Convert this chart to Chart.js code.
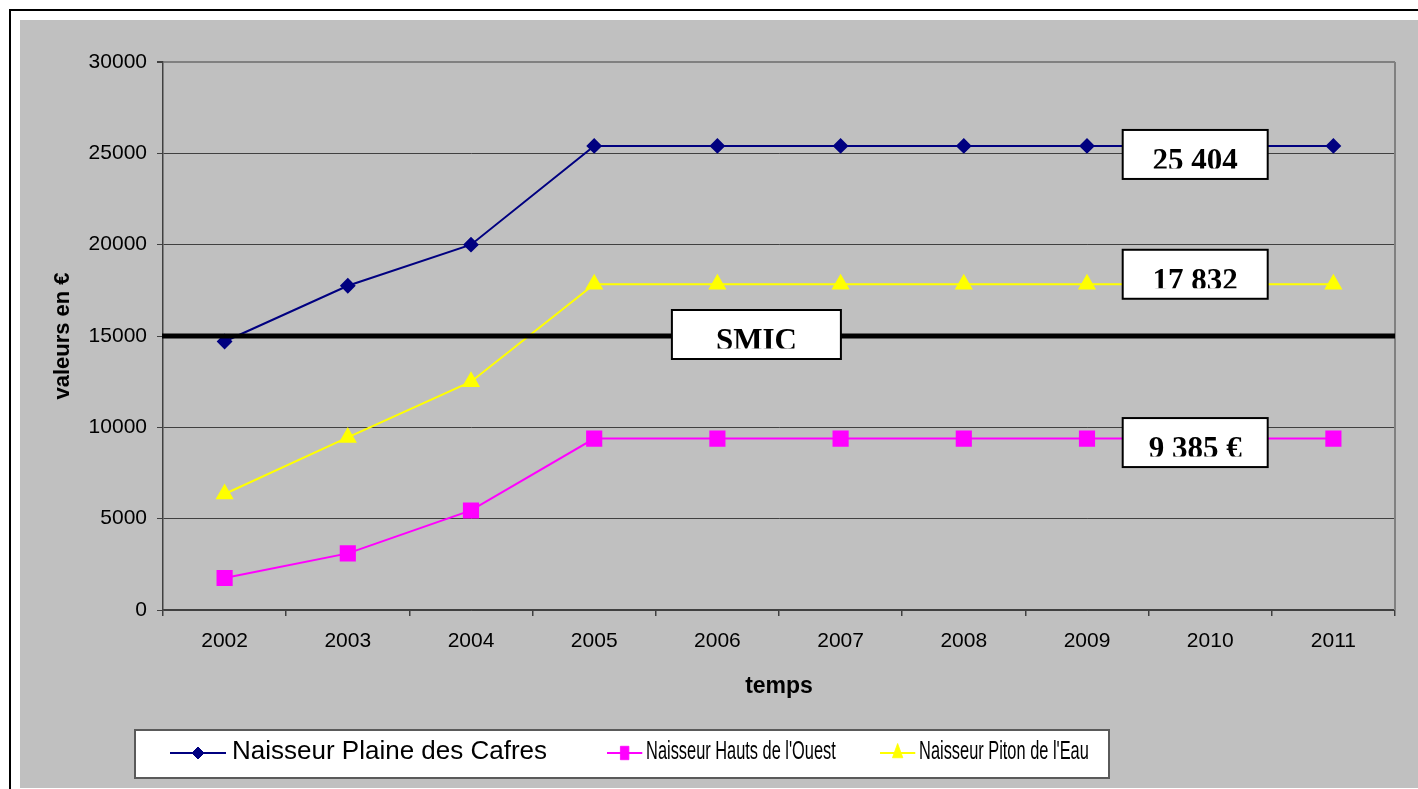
<!DOCTYPE html>
<html>
<head>
<meta charset="utf-8">
<script src="https://cdn.jsdelivr.net/npm/chart.js@4/dist/chart.umd.min.js"></script>
<style>
  html, body { margin: 0; padding: 0; background: #fff; }
  #wrap { width: 1418px; height: 789px; }
</style>
</head>
<body>
<div id="wrap"><canvas id="revenusChart" width="1418" height="789"></canvas></div>
<script>
const years = ["2002", "2003", "2004", "2005", "2006", "2007", "2008", "2009", "2010", "2011"];
const plaineDesCafres = [14700, 17750, 20000, 25404, 25404, 25404, 25404, 25404, 25404, 25404];
const hautsDeLOuest = [1750, 3100, 5450, 9385, 9385, 9385, 9385, 9385, 9385, 9385];
const pitonDeLEau = [6350, 9450, 12500, 17832, 17832, 17832, 17832, 17832, 17832, 17832];
const yTicks = [0, 5000, 10000, 15000, 20000, 25000, 30000];

const smicValue = 15000;
const smicText = "SMIC";
const boxTexts = ["25 404", "17 832", "9 385 €"];
const boxValues = [25404, 17832, 9385];

const SANS = "'Liberation Sans', Arial, sans-serif";
const SERIF = "'Liberation Serif', 'Times New Roman', serif";

// frame + grey background, like the spreadsheet export
const backgroundPlugin = {
  id: "background",
  beforeDraw(chart) {
    const ctx = chart.ctx;
    ctx.save();
    ctx.fillStyle = "#ffffff";
    ctx.fillRect(0, 0, chart.width, chart.height);
    ctx.strokeStyle = "#000000";
    ctx.lineWidth = 2;
    ctx.strokeRect(10, 10, chart.width + 20, chart.height + 20);
    ctx.fillStyle = "#C0C0C0";
    ctx.fillRect(20, 20, chart.width - 20, chart.height - 21);
    ctx.restore();
  },
  beforeDatasetsDraw(chart) {
    const { ctx, chartArea } = chart;
    ctx.save();
    ctx.strokeStyle = "#808080";
    ctx.lineWidth = 2;
    ctx.beginPath();
    ctx.moveTo(chartArea.right, chartArea.top);
    ctx.lineTo(chartArea.right, chartArea.bottom);
    ctx.stroke();
    ctx.restore();
  }
};

function drawTextBox(ctx, cx, cy, w, h, text) {
  const left = cx - w / 2, top = cy - h / 2;
  ctx.fillStyle = "#ffffff";
  ctx.fillRect(left, top, w, h);
  ctx.strokeStyle = "#000000";
  ctx.lineWidth = 2;
  ctx.strokeRect(left, top, w, h);
  ctx.save();
  ctx.beginPath();
  ctx.rect(left, top, w, 38.5);
  ctx.clip();
  ctx.fillStyle = "#000000";
  ctx.font = "bold 31px " + SERIF;
  ctx.textAlign = "center";
  ctx.textBaseline = "alphabetic";
  ctx.fillText(text, cx, top + 40);
  ctx.restore();
}

const annotationPlugin = {
  id: "annotations",
  afterDatasetsDraw(chart) {
    const { ctx, chartArea } = chart;
    const x = chart.scales.x, y = chart.scales.y;
    ctx.save();
    // SMIC line
    const ys = y.getPixelForValue(smicValue);
    ctx.strokeStyle = "#000000";
    ctx.lineWidth = 5;
    ctx.beginPath();
    ctx.moveTo(chartArea.left - 1, ys);
    ctx.lineTo(chartArea.right, ys);
    ctx.stroke();
    drawTextBox(ctx, x.getPixelForValue(4) + 39, ys - 1.5, 169, 49, smicText);

    const shifts = [8.5, -10, 4];
    boxValues.forEach((v, i) => {
      drawTextBox(ctx, x.getPixelForValue(8) - 15, y.getPixelForValue(v) + shifts[i], 145, 49, boxTexts[i]);
    });
    ctx.restore();
  }
};

// legend drawn by hand: excel squeezes the 2nd and 3rd entries
const legendPlugin = {
  id: "boxLegend",
  afterDraw(chart) {
    const ctx = chart.ctx;
    ctx.save();
    ctx.fillStyle = "#ffffff";
    ctx.fillRect(135, 730, 974, 48);
    ctx.strokeStyle = "#5a5a5a";
    ctx.lineWidth = 2;
    ctx.strokeRect(135, 730, 974, 48);

    const items = [
      { x: 170, sx: 1, r: 6 },
      { x: 607, sx: 0.63, r: 9.5 },
      { x: 880, sx: 0.63, r: 9.5 }
    ];
    chart.data.datasets.forEach((ds, i) => {
      const it = items[i];
      ctx.save();
      ctx.translate(it.x, 0);
      ctx.scale(it.sx, 1);
      ctx.strokeStyle = ds.borderColor;
      ctx.fillStyle = ds.pointBackgroundColor;
      ctx.lineWidth = 2;
      ctx.beginPath();
      ctx.moveTo(0, 753);
      ctx.lineTo(56, 753);
      ctx.stroke();
      ctx.lineWidth = 1;
      Chart.helpers.drawPoint(ctx, { pointStyle: ds.pointStyle, radius: it.r, rotation: 0, borderWidth: 1 }, 28, 753);
      ctx.fillStyle = "#000000";
      ctx.font = "26px " + SANS;
      ctx.textBaseline = "alphabetic";
      ctx.textAlign = "left";
      ctx.fillText(ds.label, 62, 759);
      ctx.restore();
    });
    ctx.restore();
  }
};

new Chart(document.getElementById("revenusChart"), {
  type: "line",
  data: {
    labels: years,
    datasets: [{
      label: "Naisseur Plaine des Cafres",
      data: plaineDesCafres,
      borderColor: "#000080",
      backgroundColor: "#000080",
      pointBackgroundColor: "#000080",
      pointBorderColor: "#000080",
      pointStyle: "rectRot",
      pointRadius: 6.5,
      borderWidth: 2
    }, {
      label: "Naisseur Hauts de l'Ouest",
      data: hautsDeLOuest,
      borderColor: "#FF00FF",
      backgroundColor: "#FF00FF",
      pointBackgroundColor: "#FF00FF",
      pointBorderColor: "#FF00FF",
      pointStyle: "rect",
      pointRadius: 10,
      borderWidth: 2
    }, {
      label: "Naisseur Piton de l'Eau",
      data: pitonDeLEau,
      borderColor: "#FFFF00",
      backgroundColor: "#FFFF00",
      pointBackgroundColor: "#FFFF00",
      pointBorderColor: "#FFFF00",
      pointStyle: "triangle",
      pointRadius: 8.5,
      borderWidth: 2
    }]
  },
  options: {
    responsive: false,
    animation: false,
    devicePixelRatio: 1,
    layout: { padding: { left: 20, top: 62, right: 23, bottom: 89 } },
    plugins: {
      legend: { display: false },
      tooltip: { enabled: false }
    },
    elements: {
      line: { tension: 0 },
      point: { borderWidth: 1, hoverRadius: 0 }
    },
    scales: {
      x: {
        type: "category",
        offset: true,
        grid: {
          offset: true,
          drawOnChartArea: false,
          drawTicks: true,
          tickLength: 6,
          color: "#404040",
          lineWidth: 1.5
        },
        border: { display: true, color: "#404040", width: 1.5 },
        ticks: { color: "#000", font: { family: SANS, size: 21 }, padding: 13, maxRotation: 0, autoSkip: false },
        title: {
          display: true,
          text: "temps",
          color: "#000",
          font: { family: SANS, size: 23, weight: "bold" },
          padding: { top: 0, bottom: 0 }
        },
        afterFit(scale) { scale.height = 90; }
      },
      y: {
        min: 0,
        max: 30000,
        afterBuildTicks(scale) { scale.ticks = yTicks.map(v => ({ value: v })); },
        grid: {
          color: c => (c.tick && c.tick.value === 30000 ? "#808080" : "#404040"),
          lineWidth: c => (c.tick && c.tick.value === 30000 ? 2 : 1),
          tickLength: 6,
          tickColor: "#404040",
          drawTicks: true
        },
        border: { display: true, color: "#404040", width: 1.5 },
        ticks: {
          color: "#000",
          font: { family: SANS, size: 21 },
          padding: 10,
          callback: v => String(v)
        },
        title: {
          display: true,
          text: "valeurs en €",
          color: "#000",
          font: { family: SANS, size: 22, weight: "bold" },
          padding: { top: 30, bottom: 0 }
        },
        afterFit(scale) { scale.width = 143; }
      }
    }
  },
  plugins: [backgroundPlugin, annotationPlugin, legendPlugin]
});
</script>
</body>
</html>
